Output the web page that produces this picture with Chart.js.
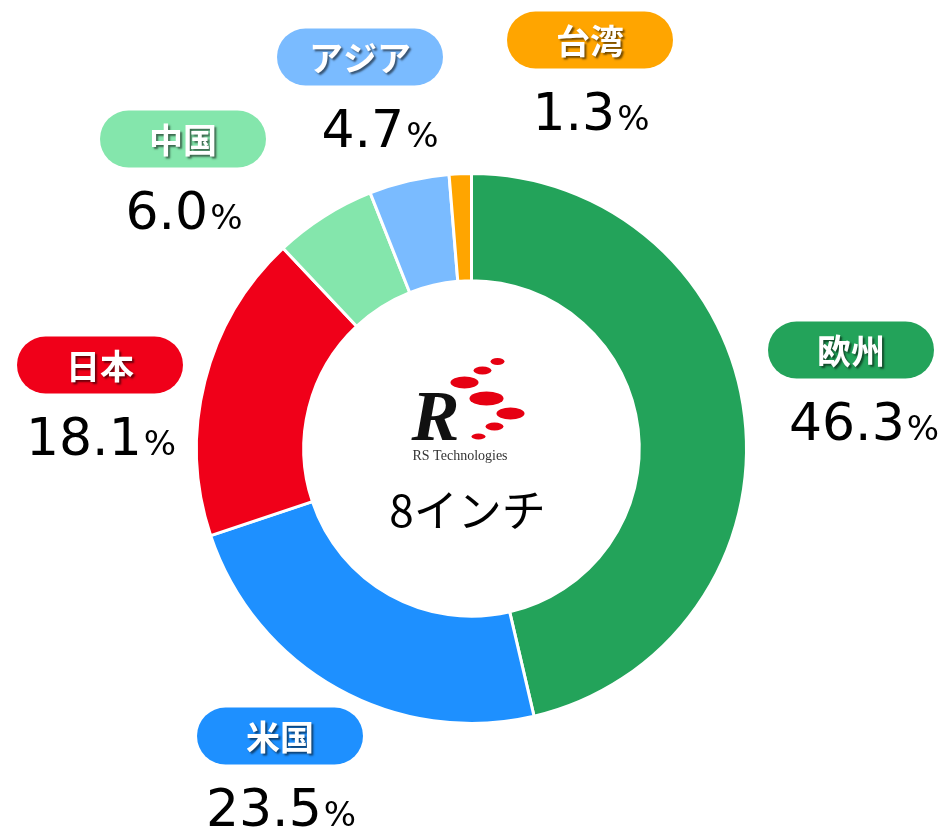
<!DOCTYPE html>
<html>
<head>
<meta charset="utf-8">
<script src="https://cdn.jsdelivr.net/npm/chart.js@4.4.0/dist/chart.umd.min.js"></script>
<style>
  html, body { margin: 0; padding: 0; background: #fff; }
  #wrap { width: 945px; height: 830px; position: relative; }
</style>
</head>
<body>
<div id="wrap"><canvas id="share"></canvas></div>
<script>
// 地域別シェア (8インチ)
const regions = ['欧州', '米国', '日本', '中国', 'アジア', '台湾'];
const shares = [46.3, 23.5, 18.1, 6.0, 4.7, 1.3];
const colors = ['#23A35A', '#1E90FF', '#F00019', '#84E6AC', '#7ABBFF', '#FFA500'];
const centerLabel = '8インチ';

// バッジの位置 [バッジ中心x, バッジ中心y, 数値中心x]
const badgePos = [
  [851, 350, 864],
  [280, 736, 281],
  [100, 365, 101],
  [183, 139, 184],
  [360, 57, 380],
  [590, 40, 591],
];

function roundRect(ctx, x, y, w, h, r) {
  ctx.beginPath();
  ctx.moveTo(x + r, y);
  ctx.lineTo(x + w - r, y);
  ctx.arc(x + w - r, y + r, r, -Math.PI / 2, Math.PI / 2);
  ctx.lineTo(x + r, y + h);
  ctx.arc(x + r, y + r, r, Math.PI / 2, Math.PI * 1.5);
  ctx.closePath();
}

const labelPlugin = {
  id: 'badges',
  afterDraw(chart) {
    const ctx = chart.ctx;
    const meta = chart.getDatasetMeta(0);
    const arc0 = meta.data[0];
    const cx = arc0.x, cy = arc0.y;

    // バッジと数値
    regions.forEach((name, i) => {
      const [bx, by, nx] = badgePos[i];
      const w = 166, h = 57;
      ctx.save();
      roundRect(ctx, bx - w / 2, by - h / 2, w, h, h / 2);
      ctx.fillStyle = colors[i];
      ctx.fill();
      ctx.font = 'bold 34px "Noto Sans CJK JP"';
      ctx.textAlign = 'center';
      ctx.textBaseline = 'middle';
      ctx.shadowColor = 'rgba(0,0,0,0.55)';
      ctx.shadowOffsetX = 2;
      ctx.shadowOffsetY = 2;
      ctx.shadowBlur = 2;
      ctx.fillStyle = '#fff';
      ctx.fillText(name, bx, by + 1);
      ctx.restore();

      ctx.save();
      const num = shares[i].toFixed(1);
      ctx.font = '52px "DejaVu Sans"';
      const nw = ctx.measureText(num).width;
      ctx.font = '34px "DejaVu Sans"';
      const pw = ctx.measureText('%').width;
      const x0 = nx - (nw + pw + 2) / 2;
      const base = by + 90;
      ctx.fillStyle = '#000';
      ctx.textAlign = 'left';
      ctx.textBaseline = 'alphabetic';
      ctx.font = '52px "DejaVu Sans"';
      ctx.fillText(num, x0, base);
      ctx.font = '34px "DejaVu Sans"';
      ctx.fillText('%', x0 + nw + 2, base);
      ctx.restore();
    });

    // 中央ロゴ
    ctx.save();
    ctx.fillStyle = '#E60012';
    const dots = [
      [26, -87, 7, 3.5], [11, -78, 9, 4], [-7, -66, 14, 6], [15, -50, 17, 7],
      [39, -35, 14, 6], [23, -22, 9, 4], [7, -12, 7, 3],
    ];
    dots.forEach(([dx, dy, rx, ry]) => {
      ctx.beginPath();
      ctx.ellipse(cx + dx, cy + dy, rx, ry, 0, 0, Math.PI * 2);
      ctx.fill();
    });
    ctx.fillStyle = '#111';
    ctx.font = 'italic bold 72px "Liberation Serif"';
    ctx.textAlign = 'left';
    ctx.textBaseline = 'alphabetic';
    ctx.fillText('R', cx - 60, cy - 9);
    ctx.fillStyle = '#333';
    ctx.font = '14px "Liberation Serif"';
    ctx.fillText('RS Technologies', cx - 59, cy + 11);

    ctx.fillStyle = '#000';
    ctx.font = '44px "Noto Sans CJK JP"';
    ctx.textAlign = 'center';
    ctx.textBaseline = 'middle';
    ctx.fillText(centerLabel, cx - 4, cy + 62);
    ctx.restore();
  }
};

new Chart(document.getElementById('share'), {
  type: 'doughnut',
  data: {
    labels: regions,
    datasets: [{
      data: shares,
      backgroundColor: colors,
      borderColor: '#fff',
      borderWidth: 3,
    }]
  },
  options: {
    responsive: true,
    maintainAspectRatio: false,
    animation: false,
    cutout: '61%',
    layout: { padding: { left: 195, right: 197, top: 172, bottom: 105 } },
    plugins: {
      legend: { display: false },
      tooltip: { enabled: false },
    }
  },
  plugins: [labelPlugin]
});
</script>
</body>
</html>
